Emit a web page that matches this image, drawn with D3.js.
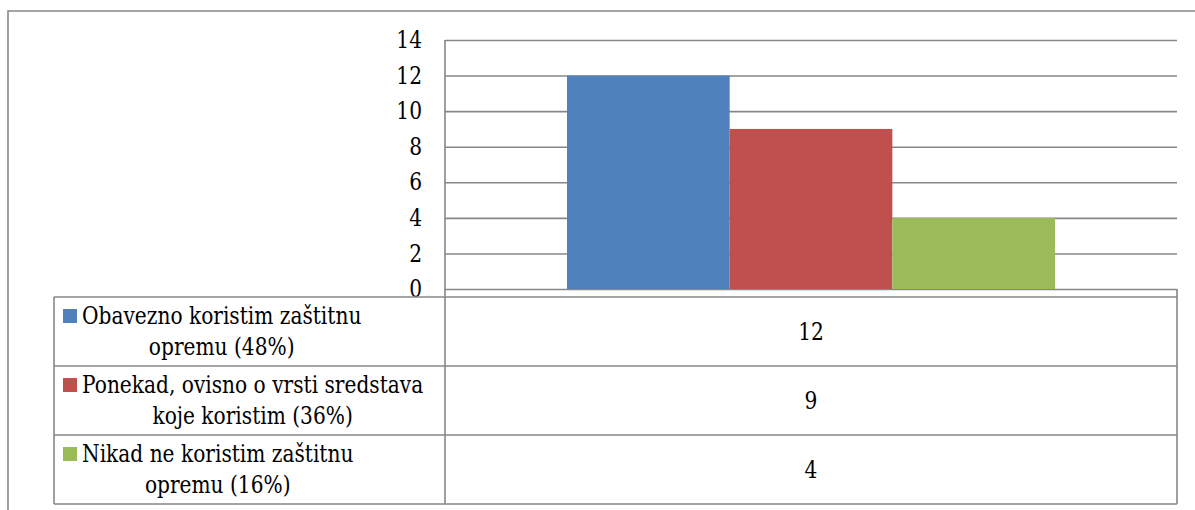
<!DOCTYPE html>
<html lang="hr">
<head>
<meta charset="UTF-8">
<title>Korištenje zaštitne opreme</title>
<script src="https://cdnjs.cloudflare.com/ajax/libs/d3/7.8.5/d3.min.js"></script>
<style>
    html, body { margin: 0; padding: 0; background: #fff; }
    svg { display: block; }
</style>
</head>
<body>
<div id="chart"></div>
<script>
    // Data
    const seriesNames = [
        ["Obavezno koristim zaštitnu", "opremu (48%)"],
        ["Ponekad, ovisno o vrsti sredstava", "koje koristim (36%)"],
        ["Nikad ne koristim zaštitnu", "opremu (16%)"]
    ];
    const seriesValues = [12, 9, 4];
    const seriesColors = ["#4F81BD", "#C0504D", "#9BBB59"];
    const yTicks = [0, 2, 4, 6, 8, 10, 12, 14];

    const W = 1195, H = 510;
    const gridColor = "#878787";
    const fontSize = 24;
    const font = "DejaVu Serif";
    // DejaVu Serif is much wider than Times, squeeze it a bit
    const squeeze = 0.84;

    // plot area
    const plot = { left: 445, right: 1177, top: 40, bottom: 289 };
    // data table under the plot
    const table = { left: 54, top: 297, rowH: 69 };

    const svg = d3.select("#chart").append("svg")
        .attr("width", W)
        .attr("height", H)
        .attr("font-family", font);

    function condense(sel) {
        sel.each(function() {
            const len = this.getComputedTextLength();
            d3.select(this)
                .attr("textLength", len * squeeze)
                .attr("lengthAdjust", "spacingAndGlyphs");
        });
    }

    // outer chart frame (cut off at right and bottom)
    svg.append("path")
        .attr("d", `M8,${H + 5} L8,11 L${W + 5},11`)
        .attr("fill", "none")
        .attr("stroke", gridColor)
        .attr("stroke-width", 1.6);

    const y = d3.scaleLinear()
        .domain([0, 14])
        .range([plot.bottom, plot.top]);

    const x = d3.scaleBand()
        .domain(d3.range(seriesValues.length))
        .range([plot.left, plot.right])
        .paddingInner(0)
        .paddingOuter(0.75);

    // gridlines + tick labels
    const yAxis = svg.append("g")
        .attr("transform", `translate(${plot.left},0)`)
        .call(d3.axisLeft(y).tickValues(yTicks).tickSize(-(plot.right - plot.left)).tickPadding(23));
    yAxis.attr("font-family", font).attr("font-size", fontSize);
    yAxis.select(".domain").remove();
    yAxis.selectAll(".tick line")
        .attr("stroke", gridColor)
        .attr("stroke-width", 1.6);
    yAxis.selectAll(".tick text")
        .attr("fill", "#000")
        .call(condense);

    // bars
    svg.append("g").selectAll("rect")
        .data(seriesValues)
        .join("rect")
        .attr("x", (d, i) => x(i))
        .attr("width", x.bandwidth())
        .attr("y", d => y(d))
        .attr("height", d => y(0) - y(d))
        .attr("fill", (d, i) => seriesColors[i]);

    // data table
    const nRows = seriesValues.length;
    const tableBottom = table.top + nRows * table.rowH;
    const lines = svg.append("g")
        .attr("fill", "none")
        .attr("stroke", gridColor)
        .attr("stroke-width", 1.6);

    lines.append("line")
        .attr("x1", plot.left).attr("x2", plot.left)
        .attr("y1", plot.top).attr("y2", tableBottom);
    lines.append("line")
        .attr("x1", plot.right).attr("x2", plot.right)
        .attr("y1", plot.bottom).attr("y2", tableBottom);
    d3.range(nRows + 1).forEach(i => {
        lines.append("line")
            .attr("x1", table.left).attr("x2", plot.right)
            .attr("y1", table.top + i * table.rowH)
            .attr("y2", table.top + i * table.rowH);
    });
    lines.append("line")
        .attr("x1", table.left).attr("x2", table.left)
        .attr("y1", table.top).attr("y2", tableBottom);

    // row labels with legend keys
    const textX = 82;
    const lineGap = 31;
    seriesNames.forEach((name, i) => {
        const cy = table.top + i * table.rowH + table.rowH / 2;
        const g = svg.append("g");

        const t = g.append("text")
            .attr("text-anchor", "middle")
            .attr("dominant-baseline", "central")
            .attr("font-size", fontSize);
        const spans = name.map((ln, j) => t.append("tspan")
            .attr("y", cy + (j - (name.length - 1) / 2) * lineGap)
            .text(ln));
        const lens = spans.map(s => s.node().getComputedTextLength());
        const w = d3.max(lens) * squeeze;
        spans.forEach((s, j) => s
            .attr("x", textX + w / 2)
            .attr("textLength", lens[j] * squeeze)
            .attr("lengthAdjust", "spacingAndGlyphs"));

        g.append("rect")
            .attr("x", 63)
            .attr("y", cy - lineGap / 2 - 7)
            .attr("width", 14)
            .attr("height", 14)
            .attr("fill", seriesColors[i]);

        svg.append("text")
            .attr("x", (plot.left + plot.right) / 2)
            .attr("y", cy)
            .attr("text-anchor", "middle")
            .attr("dominant-baseline", "central")
            .attr("font-size", fontSize)
            .text(seriesValues[i])
            .call(condense);
    });
</script>
</body>
</html>
